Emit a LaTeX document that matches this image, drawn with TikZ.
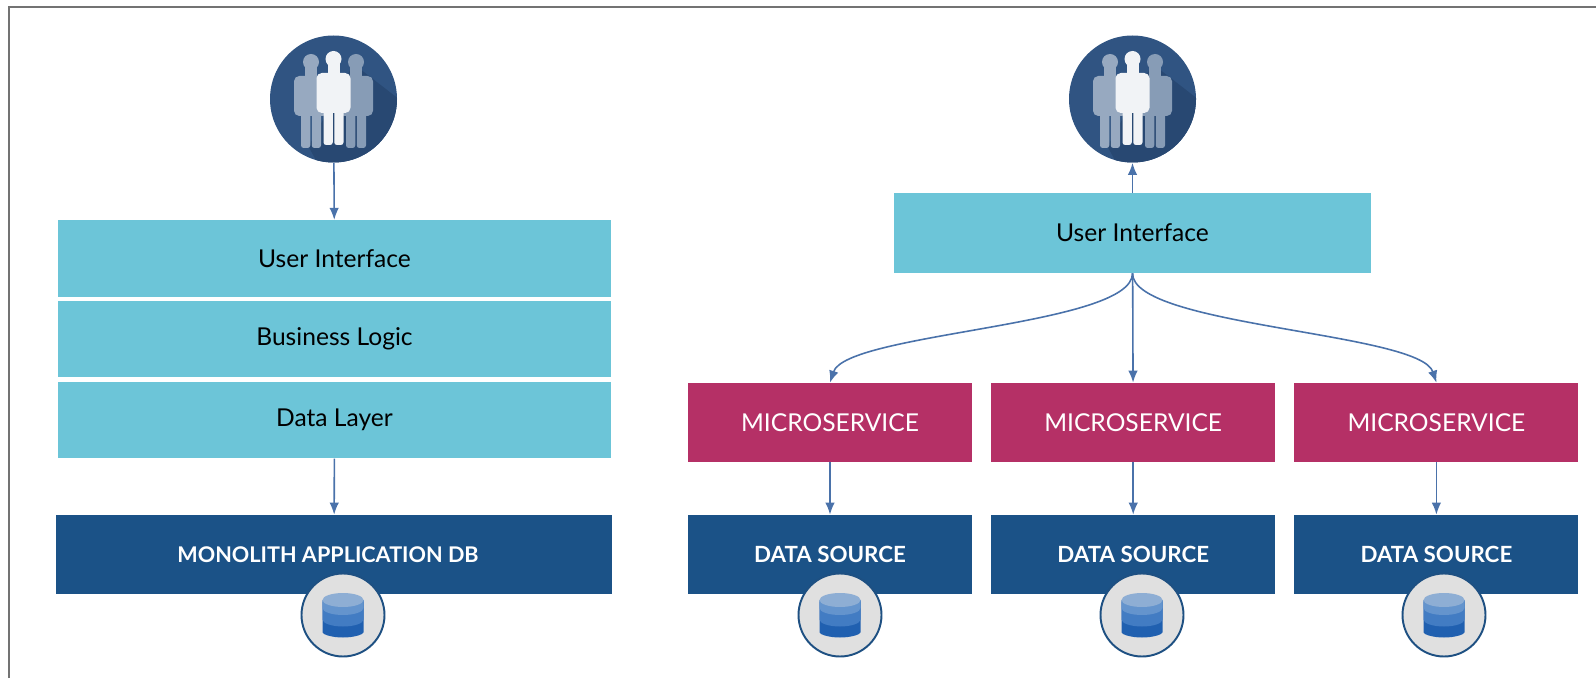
\documentclass[tikz,border=0pt]{standalone}
\usepackage{fontspec}
\setmainfont{Lato}
\usetikzlibrary{arrows.meta,positioning}
\definecolor{myteal}{RGB}{108,197,216}
\definecolor{myrose}{RGB}{181,48,102}
\definecolor{mynavy}{RGB}{27,82,135}
\definecolor{myline}{RGB}{74,114,170}
\definecolor{mydisc}{RGB}{48,84,130}
\definecolor{myshade}{RGB}{40,72,114}
\definecolor{myring}{RGB}{30,80,130}
\definecolor{mydbtop}{RGB}{142,174,212}
\definecolor{mydbtwo}{RGB}{100,148,205}
\definecolor{mydbthree}{RGB}{66,124,195}
\definecolor{mydbfour}{RGB}{32,96,176}

\tikzset{
  layer/.style={fill=myteal,minimum height=1.53cm,text=black,font=\fontsize{14}{16}\selectfont,inner sep=0pt},
  svc/.style={fill=myrose,text=white,minimum width=5.68cm,minimum height=1.58cm,font=\fontsize{14}{16}\selectfont,inner sep=0pt},
  store/.style={fill=mynavy,text=white,minimum width=5.68cm,minimum height=1.58cm,font=\bfseries\fontsize{12.7}{16}\selectfont,inner sep=0pt},
  flow/.style={draw=myline,line width=.9pt,-{Latex[length=2.4mm,width=1.9mm]}},
  users/.style={circle,fill=mydisc,minimum size=2.54cm,inner sep=0pt},
  dbring/.style={circle,draw=myring,line width=1.1pt,fill=black!12,minimum size=1.66cm,inner sep=0pt},
  figure/.pic={
    \fill (0,.8) circle (.16);
    \fill (-.12,.45) rectangle (.12,.72);
    \fill[rounded corners=3pt] (-.34,.52) rectangle (.34,-.28);
    \fill[rounded corners=1.5pt] (-.2,-.2) rectangle (-.015,-.92);
    \fill[rounded corners=1.5pt] (.015,-.2) rectangle (.2,-.92);
  },
  cylinderpic/.pic={
    \fill[rounded corners=1pt,mydbfour] (-.41,.3) -- (-.41,-.31) arc (180:360:.41 and .14) -- (.41,.3) -- cycle;
    \fill[mydbthree] (-.41,.3) -- (-.41,-.09) arc (180:360:.41 and .14) -- (.41,.3) -- cycle;
    \fill[mydbtwo] (-.41,.3) -- (-.41,.14) arc (180:360:.41 and .14) -- (.41,.3) -- cycle;
    \fill[mydbtop] (0,.3) ellipse (.41 and .14);
  },
  crowd/.pic={
    \begin{scope}
      \clip (0,0) circle (1.27);
      \fill[myshade] (.4,.7) -- (1.5,-.15) -- (1.5,-1.5) -- (-.2,-1.5) -- (-.5,-.95) -- cycle;
    \end{scope}
    \begin{scope}[xshift=-.45cm,yshift=-.06cm,scale=.93,fill=white!50!mydisc]
      \pic {figure};
    \end{scope}
    \begin{scope}[xshift=.45cm,yshift=-.06cm,scale=.93,fill=white!42!mydisc]
      \pic {figure};
    \end{scope}
    \begin{scope}[fill=white!93!mydisc]
      \pic {figure};
    \end{scope}
  }
}

\begin{document}
\begin{tikzpicture}
  \useasboundingbox (0,0) rectangle (31.92,13.56);
  % frame
  \draw[black!55,line width=.8pt] (.18,0) -- (.18,13.42) -- (31.92,13.42);

  % monolith side
  \node[users] (usersL) at (6.67,11.58) {};
  \pic at (usersL) {crowd};
  \node[layer,minimum width=11.06cm] (uiL) at (6.69,8.39) {User Interface};
  \node[layer,minimum width=11.06cm,below=.07cm of uiL] (logicL) {Business Logic};
  \node[layer,minimum width=11.06cm,below=.07cm of logicL] (dataL) {Data Layer};
  \node[store,minimum width=11.12cm,font=\bfseries\fontsize{12.3}{16}\selectfont] (dbL) at (6.68,2.47) {MONOLITH APPLICATION DB\kern.24cm};
  \node[dbring] (ringL) at (6.86,1.26) {};
  \pic at (ringL) {cylinderpic};

  % microservice side
  \node[users] (usersR) at (22.65,11.58) {};
  \pic at (usersR) {crowd};
  \node[layer,minimum width=9.54cm,minimum height=1.6cm] (uiR) at (22.65,8.9) {User Interface};

  \node[svc] (svc1) at (16.6,5.11) {MICROSERVICE};
  \node[svc,right=.37cm of svc1] (svc2) {MICROSERVICE};
  \node[svc,right=.37cm of svc2] (svc3) {MICROSERVICE};

  \node[store] (src1) at (16.6,2.47) {DATA SOURCE};
  \node[store,right=.37cm of src1] (src2) {DATA SOURCE};
  \node[store,right=.37cm of src2] (src3) {DATA SOURCE};

  \foreach \i/\x in {1/16.8,2/22.84,3/28.88} {
    \node[dbring] (ring\i) at (\x,1.26) {};
    \pic at (ring\i) {cylinderpic};
    \draw[flow] (svc\i) -- (src\i);
  }

  % arrows left
  \draw[flow] (usersL) -- (uiL);
  \draw[flow] (dataL) -- (dbL);

  % arrows right
  \draw[flow] (uiR) -- (usersR);
  \draw[flow] (uiR.south) to[out=-90,in=72,looseness=.42] (svc1.north);
  \draw[flow] (uiR) -- (svc2);
  \draw[flow] (uiR.south) to[out=-90,in=108,looseness=.42] (svc3.north);
\end{tikzpicture}
\end{document}
